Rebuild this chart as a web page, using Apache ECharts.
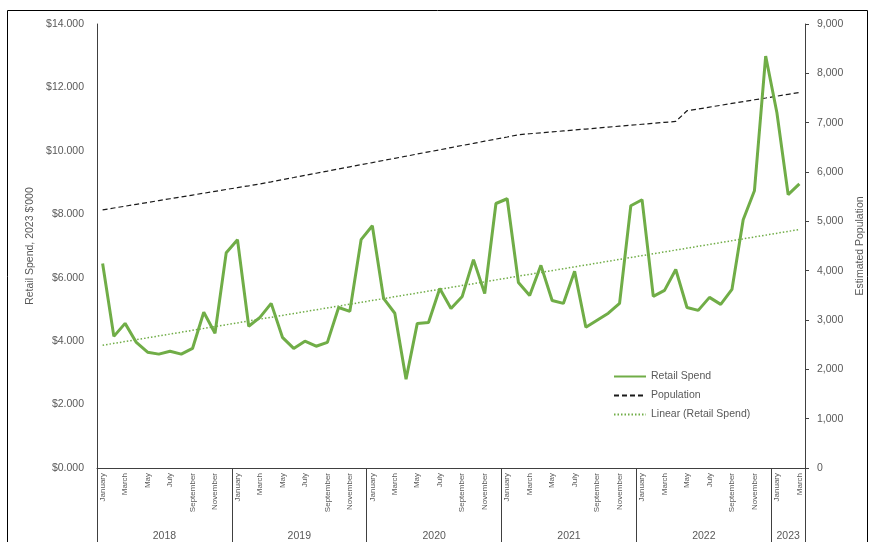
<!DOCTYPE html>
<html>
<head>
<meta charset="utf-8">
<script src="https://cdn.jsdelivr.net/npm/echarts@6/dist/echarts.min.js"></script>
<style>
html,body{margin:0;padding:0;background:#fff;}
#main{width:869px;height:542px;}
</style>
</head>
<body>
<div id="main"></div>
<script>
const monthNames = ['January','February','March','April','May','June','July','August','September','October','November','December'];
const yearLabels = ['2018','2019','2020','2021','2022','2023'];
const yearBoundaries = [0, 12, 24, 36, 48, 60, 63];
const yearCenters = [6, 18, 30, 42, 54, 61.5];
const months = [];
for (let y = 0; y < yearLabels.length; y++) {
  const n = y === 5 ? 3 : 12;
  for (let m = 0; m < n; m++) months.push(monthNames[m]);
}
const leftTicks = [0, 2, 4, 6, 8, 10, 12, 14];
const rightTicks = [0, 1000, 2000, 3000, 4000, 5000, 6000, 7000, 8000, 9000];

// Retail spend, $'000 (2023 dollars), Jan 2018 - Mar 2023
const retailSpend = [
  6.45, 4.15, 4.56, 3.96, 3.65, 3.59, 3.68, 3.59, 3.77, 4.91, 4.25, 6.79,
  7.20, 4.47, 4.75, 5.19, 4.12, 3.77, 4.00, 3.84, 3.96, 5.06, 4.94, 7.20,
  7.64, 5.35, 4.88, 2.80, 4.56, 4.59, 5.66, 5.03, 5.41, 6.57, 5.50, 8.34,
  8.49, 5.85, 5.44, 6.39, 5.28, 5.19, 6.20, 4.44, 4.66, 4.88, 5.19, 8.27,
  8.46, 5.41, 5.60, 6.26, 5.06, 4.97, 5.38, 5.16, 5.63, 7.83, 8.74, 12.99,
  11.20, 8.62, 8.96
];
// Estimated population
const population = [
  5232, 5270, 5307, 5345, 5382, 5420, 5458, 5495, 5533, 5570, 5608, 5646,
  5683, 5720, 5758, 5800, 5845, 5888, 5932, 5975, 6018, 6062, 6105, 6148,
  6190, 6235, 6278, 6320, 6365, 6408, 6450, 6495, 6538, 6580, 6625, 6668,
  6710, 6755, 6775, 6795, 6813, 6832, 6852, 6871, 6890, 6910, 6929, 6948,
  6968, 6987, 7006, 7025, 7241, 7278, 7315, 7352, 7390, 7427, 7464, 7500,
  7538, 7575, 7612
];
// Linear trend of retail spend: start and end values
const trendStart = 3.87;
const trendEnd = 7.52;
const trend = months.map((_, i) => i === 0 ? trendStart : (i === months.length - 1 ? trendEnd : null));

const txt = '#595959';
const lineCol = '#404040';
const green = '#70AD47';
const font = 'Liberation Sans, Arial, sans-serif';

const chart = echarts.init(document.getElementById('main'));
chart.setOption({
  backgroundColor: '#fff',
  animation: false,
  textStyle: { fontFamily: font },
  graphic: [{
    type: 'rect', shape: { x: 7.5, y: 10.5, width: 860, height: 540 },
    style: { fill: 'none', stroke: '#000', lineWidth: 1 }, silent: true, z: -10
  }],
  grid: { left: 97, right: 64, top: 24, bottom: 74, containLabel: false, outerBoundsMode: 'none' },
  legend: {
    orient: 'vertical', left: 608, top: 366, itemWidth: 32, itemHeight: 12, itemGap: 8,
    itemStyle: { opacity: 0, borderWidth: 0 },
    textStyle: { color: txt, fontSize: 10.5, fontFamily: font },
    data: ['Retail Spend', 'Population', 'Linear (Retail Spend)']
  },
  xAxis: [{
    type: 'category', data: months, boundaryGap: true, position: 'bottom',
    axisLine: { show: true, lineStyle: { color: lineCol, width: 1 } },
    axisTick: { show: false },
    axisLabel: { interval: 1, rotate: 90, margin: 5, fontSize: 8, color: txt, fontFamily: font },
    splitLine: { show: false }
  }, {
    type: 'value', min: 0, max: 63, position: 'bottom', offset: 0,
    axisLine: { show: false },
    axisTick: { show: true, inside: false, length: 74, customValues: yearBoundaries, lineStyle: { color: lineCol, width: 1 } },
    axisLabel: { show: true, customValues: yearCenters, margin: 63, fontSize: 10.5, color: txt, fontFamily: font,
      formatter: v => yearLabels[Math.floor(v / 12)] },
    splitLine: { show: false }
  }],
  yAxis: [{
    type: 'value', min: leftTicks[0], max: leftTicks[leftTicks.length - 1], interval: 2, position: 'left',
    name: "Retail Spend, 2023 $'000", nameLocation: 'middle', nameGap: 58, nameRotate: 90,
    nameTextStyle: { color: txt, fontSize: 10.5, fontFamily: font },
    axisLine: { show: true, lineStyle: { color: lineCol, width: 1 } },
    axisTick: { show: false },
    axisLabel: { margin: 13, fontSize: 10.5, color: txt, fontFamily: font, formatter: v => '$' + v.toFixed(3) },
    splitLine: { show: false }
  }, {
    type: 'value', min: rightTicks[0], max: rightTicks[rightTicks.length - 1], interval: 1000, position: 'right',
    name: 'Estimated Population', nameLocation: 'middle', nameGap: 48, nameRotate: 90,
    nameTextStyle: { color: txt, fontSize: 10.5, fontFamily: font },
    axisLine: { show: true, lineStyle: { color: lineCol, width: 1 } },
    axisTick: { show: true, length: 4, lineStyle: { color: lineCol } },
    axisLabel: { margin: 12, fontSize: 10.5, color: txt, fontFamily: font, formatter: v => v.toLocaleString('en-US') },
    splitLine: { show: false }
  }],
  series: [{
    name: 'Retail Spend', type: 'line', data: retailSpend, xAxisIndex: 0, yAxisIndex: 0,
    symbol: 'none', lineStyle: { color: green, width: 3 }, itemStyle: { color: green }, z: 3
  }, {
    name: 'Population', type: 'line', data: population, xAxisIndex: 0, yAxisIndex: 1,
    symbol: 'none', lineStyle: { color: '#1a1a1a', width: 1.2, type: [5, 3] }, itemStyle: { color: '#1a1a1a' }, z: 2
  }, {
    name: 'Linear (Retail Spend)', type: 'line', data: trend, xAxisIndex: 0, yAxisIndex: 0, connectNulls: true,
    symbol: 'none', lineStyle: { color: green, width: 1.5, type: [1.5, 2] }, itemStyle: { color: green }, z: 2
  }]
});
</script>
</body>
</html>
